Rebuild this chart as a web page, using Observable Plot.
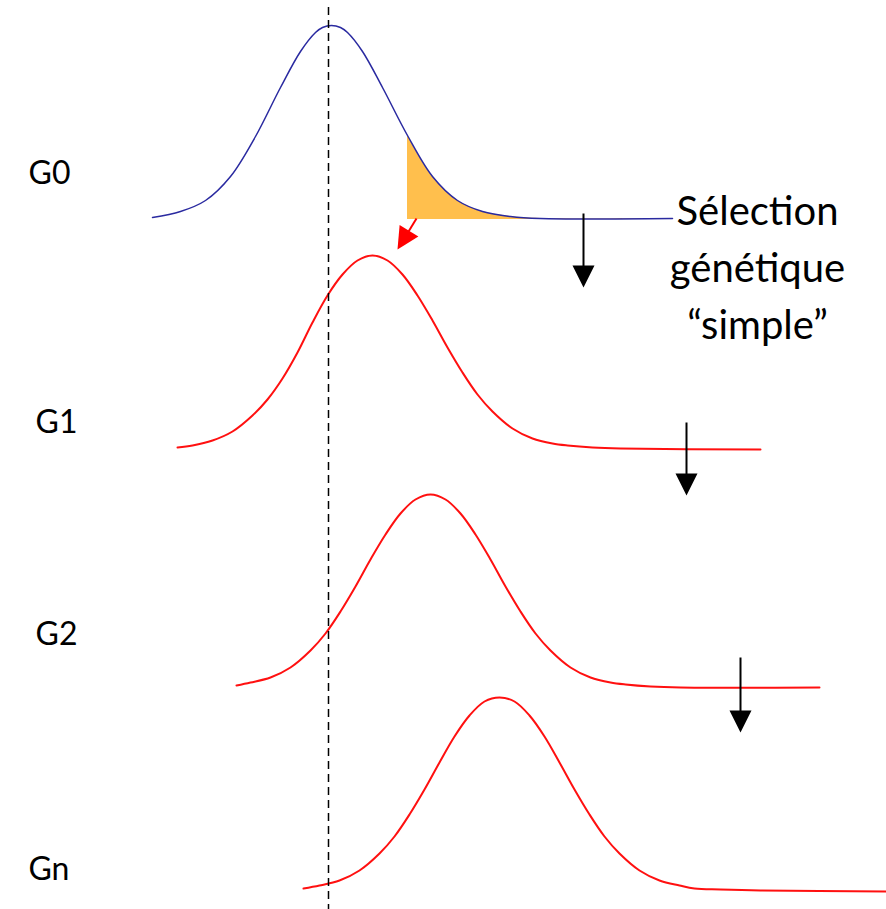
<!DOCTYPE html>
<html><head><meta charset="utf-8">
<script src="https://cdn.jsdelivr.net/npm/d3@7"></script>
<script src="https://cdn.jsdelivr.net/npm/@observablehq/plot@0.6"></script>
<style>html,body{margin:0;padding:0;background:#fff;overflow:hidden}</style>
</head><body><div id="chart"></div>
<script>
// Generation labels
const generations = ["G0", "G1", "G2", "Gn"];
const labelTrait = [28, 35, 35, 28];
const labelLevel = [183, 432, 644, 879];

// Distribution curves (trait value, level; level grows downward)
const g0Trait = [152, 180, 205, 230, 255, 280, 300, 315, 322, 331, 340, 347, 362, 382, 407, 432, 457, 482, 510, 540, 672];
const g0Level = [217, 211, 200, 176, 136, 87, 51, 32, 27, 25, 27, 32, 51, 87, 135, 176, 200, 211, 216, 218, 218];

const g1Trait = [177, 192, 212, 232, 252, 267, 282, 297, 312, 327, 342, 357, 372, 387, 402, 417, 432, 447, 462, 477, 492, 512, 532, 552, 567, 592, 620, 760];
const g1Level = [447, 445, 440, 431, 415, 399, 378, 352, 322, 295, 274, 260, 255, 260, 274, 295, 320, 347, 372, 394, 411, 428, 438, 443, 445, 447, 448, 449];

const g2Trait = [236, 250, 270, 290, 310, 325, 340, 355, 370, 385, 400, 415, 430, 445, 460, 475, 490, 505, 520, 535, 550, 570, 590, 610, 625, 650, 680, 819];
const g2Level = [685, 682, 677, 667, 650, 633, 611, 586, 559, 534, 513, 499, 494, 499, 513, 534, 559, 586, 611, 633, 650, 667, 677, 682, 684, 686, 687, 687];

const gnTrait = [303, 319, 339, 359, 379, 394, 409, 424, 439, 454, 469, 484, 499, 514, 529, 544, 559, 574, 589, 604, 619, 639, 659, 679, 694, 720, 760, 886];
const gnLevel = [888, 885, 880, 870, 853, 836, 814, 789, 762, 736, 715, 701, 697, 701, 715, 736, 762, 789, 814, 836, 853, 870, 880, 885, 888, 889, 890, 891];

// Selected tail of G0 (orange area)
const tailStart = 407;
const tailBase = 219;

// Mean of G0 (dashed line)
const meanTrait = 328;
const meanTop = 7;
const meanBottom = 909;

// Selection arrows (black, downward)
const arrowTrait = [583, 686, 740];
const arrowFrom = [213, 422, 657];
const arrowTo = [287, 495, 732];

// Red arrow from selected tail to next generation
const redFrom = {x: 416, y: 218};
const redTo = {x: 397, y: 249};

const caption = "Sélection\ngénétique\n“simple”";
const captionTrait = 757;
const captionLevel = 338;

const zip = (xs, ys) => xs.map((x, i) => ({x, y: ys[i]}));
const g0 = zip(g0Trait, g0Level);
const g1 = zip(g1Trait, g1Level);
const g2 = zip(g2Trait, g2Level);
const gn = zip(gnTrait, gnLevel);
const tail = g0.filter(d => d.x >= tailStart).map(d => ({...d, base: tailBase}));
const labels = generations.map((g, i) => ({g, x: labelTrait[i], y: labelLevel[i]}));
const arrows = arrowTrait.map((x, i) => ({x, y1: arrowFrom[i], y2: arrowTo[i]}));

const headLen = 22;
const head = {
  draw(ctx) {
    ctx.moveTo(0, 0);
    ctx.lineTo(-11, -headLen);
    ctx.lineTo(11, -headLen);
    ctx.closePath();
  }
};
const rdx = redTo.x - redFrom.x, rdy = redTo.y - redFrom.y, rl = Math.hypot(rdx, rdy);
const redAngle = Math.atan2(-rdx, rdy) * 180 / Math.PI;
const redShaft = [{x1: redFrom.x, y1: redFrom.y, x2: redTo.x - rdx / rl * (headLen - 2), y2: redTo.y - rdy / rl * (headLen - 2)}];

const curve = "catmull-rom";
const chart = Plot.plot({
  width: 886,
  height: 909,
  margin: 0,
  x: {domain: [0, 886], range: [0, 886], axis: null},
  y: {domain: [0, 909], range: [0, 909], axis: null},
  style: {background: "#fff"},
  marks: [
    Plot.areaY(tail, {x: "x", y1: "base", y2: "y", fill: "#ffbf4d", curve}),
    Plot.line(g0, {x: "x", y: "y", stroke: "#2a2aa0", strokeWidth: 1.5, curve}),
    Plot.line(g1, {x: "x", y: "y", stroke: "#ff1010", strokeWidth: 2, curve}),
    Plot.line(g2, {x: "x", y: "y", stroke: "#ff1010", strokeWidth: 2, curve}),
    Plot.line(gn, {x: "x", y: "y", stroke: "#ff1010", strokeWidth: 2, curve}),
    Plot.ruleX([meanTrait], {x: d => d, y1: meanTop, y2: meanBottom, stroke: "#000", strokeWidth: 1.5, strokeDasharray: "8,5"}),
    Plot.link(arrows, {x1: "x", y1: "y1", x2: "x", y2: d => d.y2 - headLen + 2, stroke: "#000", strokeWidth: 2}),
    Plot.dot(arrows, {x: "x", y: "y2", symbol: head, r: 10, fill: "#000", stroke: null}),
    Plot.link(redShaft, {x1: "x1", y1: "y1", x2: "x2", y2: "y2", stroke: "#ff0000", strokeWidth: 2}),
    Plot.dot([redTo], {x: "x", y: "y", symbol: head, r: 10, fill: "#ff0000", stroke: null, rotate: redAngle}),
    Plot.text(labels, {x: "x", y: "y", text: "g", textAnchor: "start", lineAnchor: "bottom", fontSize: 32, fill: "#000", fontFamily: "Lato"}),
    Plot.text([caption], {x: captionTrait, y: captionLevel, text: d => d, textAnchor: "middle", lineAnchor: "bottom", lineHeight: 1.42, fontSize: 40, fill: "#000", fontFamily: "Lato"})
  ]
});
document.getElementById("chart").appendChild(chart);
</script>
</body></html>
